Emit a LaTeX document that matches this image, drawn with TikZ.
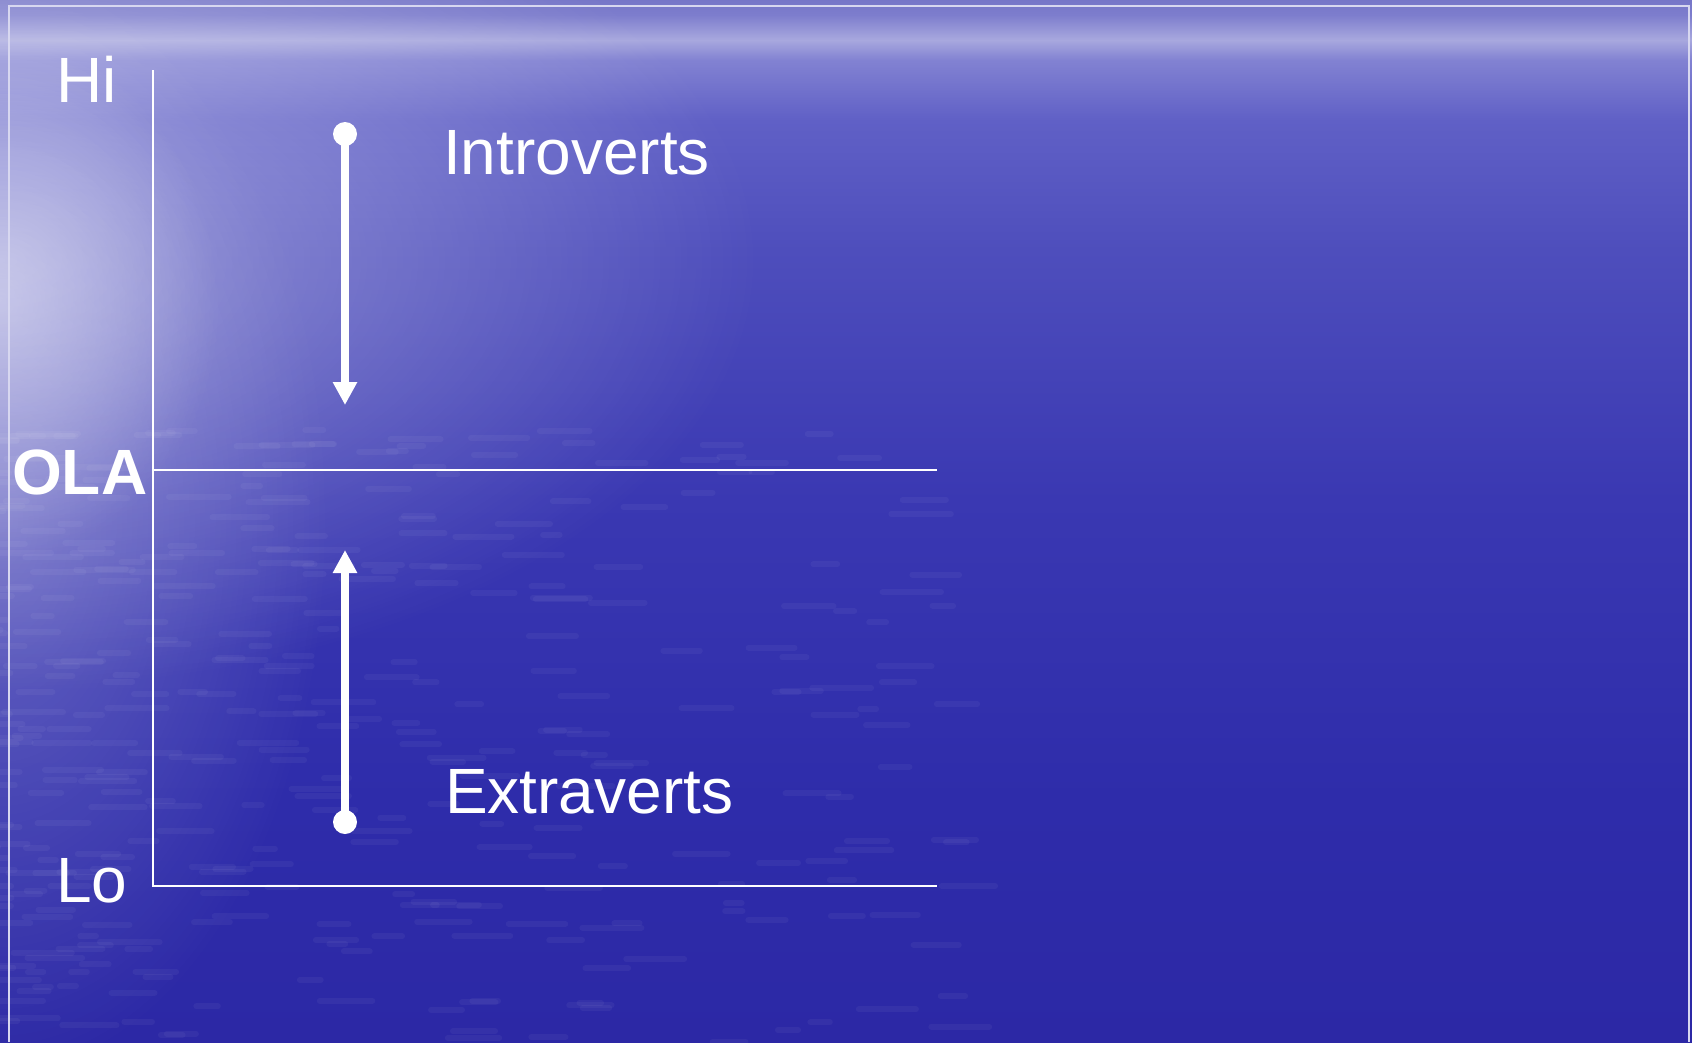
\documentclass[tikz,border=0pt]{standalone}
\usepackage{fontspec}
\setmainfont{Liberation Sans}
\usetikzlibrary{arrows.meta,fadings}

% sea colours, from the bottom of the picture to the top
\definecolor{seaA}{RGB}{44,40,165}
\definecolor{seaB}{RGB}{46,44,170}
\definecolor{seaC}{RGB}{58,56,178}
\definecolor{seaD}{RGB}{78,78,188}
\definecolor{seaE}{RGB}{96,96,198}
\definecolor{seaF}{RGB}{130,130,210}
\definecolor{seaG}{RGB}{168,168,222}
\definecolor{seaH}{RGB}{125,125,205}
\definecolor{seaI}{RGB}{118,118,200}
\definecolor{frame}{RGB}{215,215,240}

% the path is mapped onto the band 25bp..75bp of the shading
\pgfdeclareverticalshading{seashade}{100bp}{%
  color(0bp)=(seaA); color(25bp)=(seaA); color(36.6bp)=(seaB);
  color(51bp)=(seaC); color(63bp)=(seaD); color(69.24bp)=(seaE);
  color(72.12bp)=(seaF); color(73.08bp)=(seaG); color(74.28bp)=(seaH);
  color(75bp)=(seaI); color(100bp)=(seaI)}

\tikzfading[name=glowfade, inner color=transparent!0, outer color=transparent!100]

\tikzset{
  axisline/.style={white, line width=2pt},
  dot/.style={circle, fill=white, draw=none, minimum size=24pt, inner sep=0pt},
  flow/.style={white, line width=8pt, -{Triangle[width=23pt,length=23pt]}},
  label/.style={white, inner sep=0pt, anchor=base west, font=\fontsize{64}{77}\selectfont},
  ripple/.style={white, line width=6pt, line cap=round, opacity=0.045}
}

\begin{document}
\begin{tikzpicture}[x=1pt, y=-1pt]
  \useasboundingbox (0,0) rectangle (1692,1042);

  % background: sea with a light horizon and a glow on the left
  \shade[shading=seashade] (0,0) rectangle (1692,1042);
  \fill[white, opacity=0.42, path fading=glowfade] (0,260) ellipse [x radius=760, y radius=430];
  \fill[white, opacity=0.40, path fading=glowfade] (0,300) ellipse [x radius=220, y radius=260];
  \fill[white, opacity=0.25, path fading=glowfade] (0,520) ellipse [x radius=330, y radius=560];

  % ripples on the water
  \pgfmathsetseed{11}
  \foreach \k in {1,...,380} {
    \pgfmathsetmacro\rx{pow(rnd,1.8)*1000-40}
    \pgfmathsetmacro\ry{430+rnd*612}
    \pgfmathsetmacro\rl{15+rnd*45}
    \draw[ripple] (\rx,\ry) -- ++(\rl,0);
  }

  % slide frame
  \draw[frame, line width=2pt] (9,1042) -- (9,6) -- (1689,6) -- (1689,1042);

  % axes
  \coordinate (axtop) at (153,70);
  \coordinate (axmid) at (153,470);
  \coordinate (axbot) at (153,886);
  \coordinate (olaend) at (937,470);
  \coordinate (loend) at (937,886);
  \draw[axisline] (axtop) -- (axbot) -- (loend);
  \draw[axisline] (axmid) -- (olaend);

  % level labels
  \node[label] (hi) at (56,102) {Hi};
  \node[label, font=\fontsize{64}{77}\selectfont\bfseries] (ola) at (12,494) {OLA};
  \node[label] (lo) at (56,902) {Lo};

  % arrows towards the optimal level
  \node[dot] (dtop) at (345,134) {};
  \node[dot] (dbot) at (345,822) {};
  \coordinate (ttop) at (345,405);
  \coordinate (tbot) at (345,550);
  \draw[flow] (dtop.center) -- (ttop);
  \draw[flow] (dbot.center) -- (tbot);

  \node[label] (intro) at (443,174) {Introverts};
  \node[label] (extra) at (445,813) {Extraverts};
\end{tikzpicture}
\end{document}
